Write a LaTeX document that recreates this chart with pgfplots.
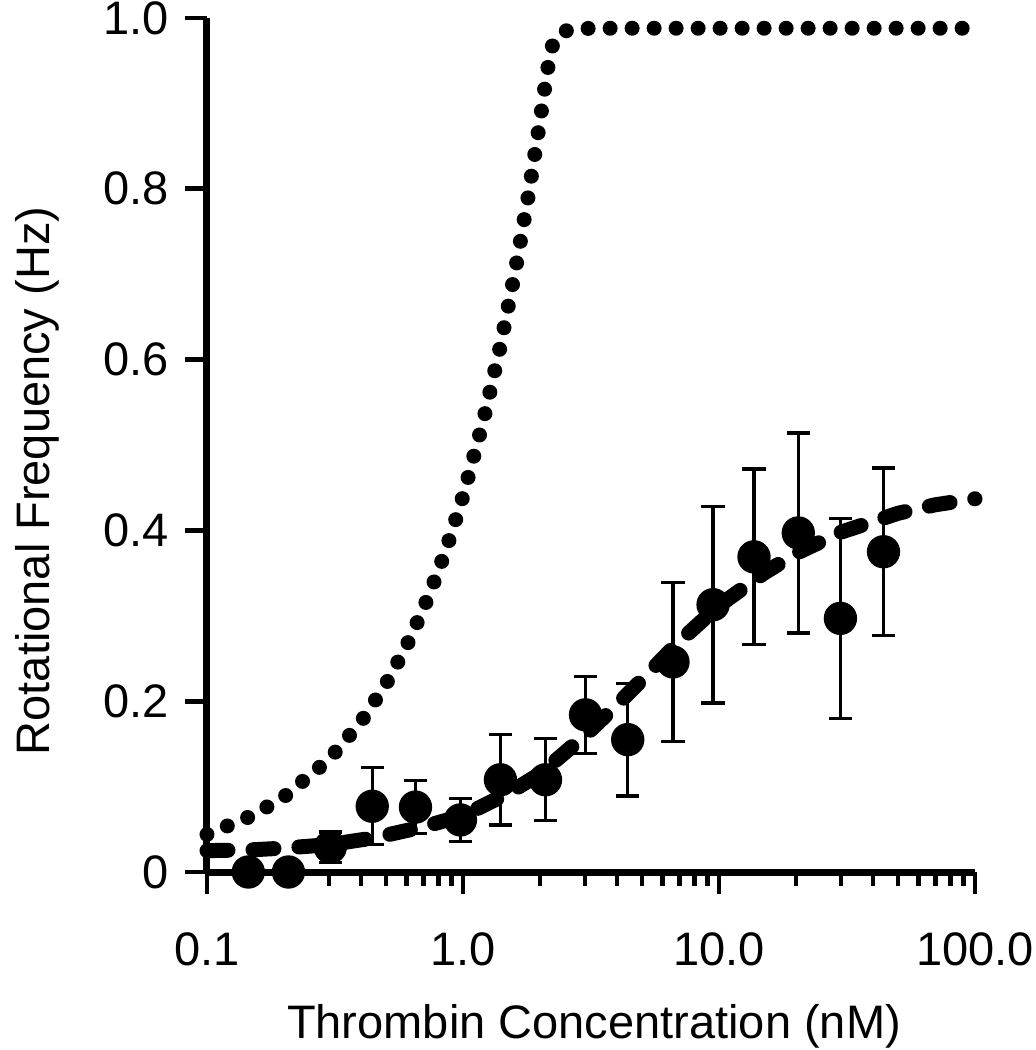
\documentclass[border=0pt]{standalone}
\usepackage{pgfplots}
\pgfplotsset{compat=1.18}
\usepackage{fontspec}
\setmainfont{Liberation Sans}
\begin{document}
\begin{tikzpicture}
\begin{axis}[
  at={(0,0)}, anchor=south west,
  scale only axis, width=230.4pt, height=256.2pt,
  xmode=log, xmin=0.1, xmax=100, ymin=0, ymax=1,
  axis x line=bottom, axis y line=left,
  axis line style={-, line width=2.1pt, black},
  clip=false,
  xtick={0.1,1,10,100}, xticklabels={0.1,1.0,10.0,100.0},
  ytick={0,0.2,0.4,0.6,0.8,1}, yticklabels={0,0.2,0.4,0.6,0.8,1.0},
  tick align=outside,
  major tick length=6.6pt, minor tick length=4.2pt,
  every tick/.style={black, line width=1.4pt},
  ticklabel style={font=\fontsize{14.1}{17}\selectfont},
  xticklabel style={yshift=-8.2pt},
  yticklabel style={xshift=-1.3pt},
  label style={font=\fontsize{14.1}{17}\selectfont},
  xlabel={Thrombin Concentration (nM)},
  ylabel={Rotational Frequency (Hz)},
  xlabel style={at={(axis description cs:0.504,-0.1944)}, anchor=base},
  ylabel style={at={(axis description cs:-0.2057,0.458)}, anchor=base},
]
% dotted curve
\addplot[black, line width=4.5pt, line cap=round, dash pattern=on 0pt off 6.6pt] coordinates {
(0.1,0.044) (0.15,0.066) (0.2,0.088) (0.3,0.132) (0.4,0.176) (0.5,0.22) (0.6,0.264) (0.7,0.308) (0.8,0.352) (0.9,0.396) (1.0,0.44) (1.2,0.528) (1.4,0.616) (1.6,0.704) (1.8,0.792) (2.0,0.88) (2.1,0.924) (2.2,0.962) (2.3,0.977) (2.45,0.984) (2.7,0.987) (3.2,0.988) (10,0.988) (100,0.988)
};
% dashed fit
\addplot[black, line width=4.5pt, line cap=round, dash pattern=on 6.3pt off 7.5pt] coordinates {
(0.1,0.025) (0.15,0.026) (0.2,0.028) (0.3,0.032) (0.45,0.040) (0.7,0.053) (1.0,0.066) (1.5,0.092) (2.0,0.115) (3.0,0.160) (4.0,0.196) (5.0,0.225) (7.0,0.270) (10,0.312) (15,0.350) (20,0.373) (30,0.398) (50,0.420) (70,0.430) (100,0.437)
};
% data
\addplot[black, only marks, mark=*, mark size=4.8pt,
  error bars/.cd, y dir=both, y explicit,
  error bar style={line width=1pt, black},
  error mark options={rotate=90, mark size=3.5pt, line width=1pt, black}] coordinates {
(0.145,0.0) +- (0,0)
(0.208,0.0) +- (0,0)
(0.303,0.029) +- (0,0.018)
(0.442,0.077) +- (0,0.045)
(0.652,0.076) +- (0,0.031)
(0.977,0.061) +- (0,0.025)
(1.40,0.108) +- (0,0.053)
(2.10,0.108) +- (0,0.048)
(3.01,0.184) +- (0,0.045)
(4.40,0.155) +- (0,0.066)
(6.61,0.246) +- (0,0.093)
(9.48,0.313) +- (0,0.115)
(13.7,0.369) +- (0,0.103)
(20.4,0.397) +- (0,0.117)
(29.8,0.297) +- (0,0.117)
(43.9,0.375) +- (0,0.098)
};
\end{axis}
\pgfresetboundingbox
\useasboundingbox (-62.1pt,-53.4pt) rectangle (248.4pt,261.6pt);
\end{tikzpicture}
\end{document}
